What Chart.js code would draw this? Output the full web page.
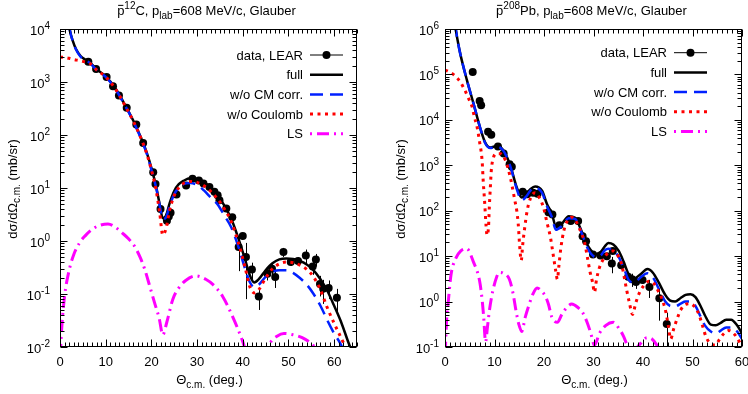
<!DOCTYPE html>
<html>
<head>
<meta charset="utf-8">
<script src="https://cdn.jsdelivr.net/npm/chart.js@4.4.1/dist/chart.umd.min.js"></script>
<style>
  body { margin: 0; background: #fff; }
  .wrap { display: flex; width: 748px; height: 394px; }
  canvas { display: block; }
</style>
</head>
<body>
<div class="wrap">
  <canvas id="carbonChart" width="374" height="394"></canvas>
  <canvas id="leadChart" width="374" height="394"></canvas>
</div>
<script>
// ---- p-bar + 12C ----
const c12XTicks = [0, 10, 20, 30, 40, 50, 60];
const c12YExponents = [-2, -1, 0, 1, 2, 3, 4];

const c12DataAngle = [6.2, 7.9, 10.2, 11.6, 12.9, 14.6, 16.7, 18.2, 20.4, 20.9, 22.0, 23.4, 23.8, 24.2, 25.5, 27.6, 29.0, 30.4, 31.4, 32.7, 33.8, 34.5, 34.9, 36.4, 37.7, 39.1, 40.0, 40.7, 42.0, 43.5, 45.4, 46.4, 47.1, 48.9, 50.5, 52.1, 53.8, 55.3, 56.0, 56.9, 57.6, 58.8, 60.6];
const c12DataValue = [2400, 1750, 1240, 830, 556, 325, 157, 71, 19.8, 11.9, 4.0, 2.4, 2.9, 3.4, 7.5, 11.2, 15.0, 13.8, 12.2, 10.5, 8.5, 7.3, 5.9, 4.1, 2.8, 0.77, 1.24, 0.5, 0.29, 0.09, 0.24, 0.30, 0.21, 0.62, 0.40, 0.42, 0.53, 0.33, 0.45, 0.155, 0.125, 0.13, 0.085];
const c12DataError = [70, 50, 35, 25, 17, 10, 5, 2, 0.6, 0.4, 0.15, 0.1, 0.12, 0.15, 0.3, 0.4, 0.5, 0.5, 0.4, 0.4, 0.3, 0.3, 0.3, 0.2, 0.25, 0.5, 0.15, 0.42, 0.1, 0.04, 0.06, 0.08, 0.08, 0.12, 0.06, 0.07, 0.16, 0.1, 0.12, 0.065, 0.06, 0.05, 0.04];

const c12FullAngle = [1.5, 2.1, 2.8, 3.5, 4.5, 5.5, 6.5, 8, 10, 12, 14, 16, 18, 19, 20, 21, 21.8, 22.5, 23.2, 24, 25, 26, 27, 28.5, 30, 31.5, 33, 34.5, 36, 37.5, 39, 40.5, 41.5, 42.5, 43.5, 45, 46.5, 48, 49.5, 51, 52.5, 54, 55.5, 57, 58.5, 60, 61.5, 63, 64.5];
const c12FullValue = [25000, 10000, 6000, 4200, 3100, 2650, 2350, 1750, 1280, 790, 400, 190, 78, 46, 24, 11, 5.0, 2.7, 3.0, 5.2, 8.8, 11.8, 13.6, 15.3, 14.6, 12.8, 10.0, 7.4, 4.6, 2.6, 1.15, 0.45, 0.23, 0.165, 0.19, 0.28, 0.38, 0.45, 0.47, 0.46, 0.42, 0.36, 0.28, 0.19, 0.115, 0.06, 0.03, 0.013, 0.006];

const c12NoCmAngle = [1.5, 2.1, 2.8, 3.5, 4.5, 5.5, 6.5, 8, 10, 12, 14, 16, 18, 19, 20, 21, 21.8, 22.5, 23.2, 24, 25, 26, 27, 28.5, 30, 31.5, 33, 34.5, 36, 37.5, 39, 40.5, 41.5, 42.5, 43.5, 45, 46.5, 48, 49.5, 51, 52.5, 54, 55.5, 57, 58.5, 60, 61.5, 63];
const c12NoCmValue = [25000, 10000, 5900, 4100, 3000, 2600, 2300, 1700, 1250, 770, 390, 185, 75, 44, 22, 10.5, 4.8, 2.6, 2.8, 4.6, 7.6, 10.2, 11.8, 12.4, 11.4, 9.0, 6.6, 4.9, 3.0, 1.8, 0.8, 0.3, 0.17, 0.135, 0.15, 0.21, 0.26, 0.28, 0.28, 0.25, 0.2, 0.15, 0.1, 0.06, 0.032, 0.018, 0.011, 0.005];

const c12NoCoulAngle = [0, 1, 2, 3, 4, 5, 6.5, 8, 10, 12, 14, 16, 18, 19, 20, 21, 21.8, 22.5, 23.2, 24, 25, 26, 27, 28.5, 30, 31.5, 33, 34.5, 36, 37.5, 39, 40.5, 41.5, 42.5, 43.5, 45, 46.5, 48, 49.5, 51, 52.5, 54, 55.5, 57, 58.5, 60, 61.5, 63, 64.5];
const c12NoCoulValue = [2950, 2900, 2800, 2650, 2550, 2450, 2250, 1700, 1250, 770, 390, 185, 76, 44, 22, 9.5, 3.5, 1.3, 1.7, 3.8, 7.2, 10.2, 12.2, 13.3, 12.8, 11.0, 8.6, 6.2, 4.0, 2.3, 0.95, 0.32, 0.14, 0.105, 0.12, 0.2, 0.3, 0.37, 0.4, 0.39, 0.35, 0.29, 0.21, 0.12, 0.055, 0.028, 0.015, 0.008, 0.004];

const c12LsAngle = [0, 0.3, 1, 2, 3, 4.3, 5.5, 7, 8.5, 10.5, 12, 13.7, 15, 16.3, 17.5, 18.5, 19.7, 20.7, 21.7, 22.5, 23.4, 24.7, 26, 27.5, 29.7, 31.9, 33.5, 35.6, 37.8, 40, 41.5, 43, 44.5, 46, 47.5, 49, 51, 53, 55.3, 57, 59];
const c12LsValue = [0.005, 0.018, 0.09, 0.28, 0.55, 0.93, 1.25, 1.65, 1.95, 2.1, 1.85, 1.4, 1.1, 0.8, 0.5, 0.3, 0.135, 0.068, 0.035, 0.017, 0.03, 0.08, 0.13, 0.18, 0.22, 0.19, 0.15, 0.09, 0.037, 0.0126, 0.005, 0.004, 0.006, 0.012, 0.016, 0.018, 0.017, 0.015, 0.011, 0.007, 0.003];

// ---- p-bar + 208Pb ----
const pbXTicks = [0, 10, 20, 30, 40, 50, 60];
const pbYExponents = [-1, 0, 1, 2, 3, 4, 5, 6];

const pbDataAngle = [5.6, 7.0, 7.3, 8.7, 9.35, 10.7, 11.85, 13.05, 13.5, 15.7, 16.6, 17.8, 18.7, 20.9, 21.7, 23.1, 25.4, 26.9, 27.8, 28.5, 29.9, 31.4, 32.7, 33.7, 33.9, 35.6, 37.0, 37.8, 38.6, 39.9, 41.3, 43.3, 44.8];
const pbDataValue = [113000, 26000, 21000, 5500, 4700, 2600, 1820, 1060, 930, 260, 230, 250, 235, 93, 83, 48, 59, 59, 27.5, 21.4, 10.9, 10.3, 10, 6.9, 12.9, 6.3, 3.5, 3.1, 2.7, 3.0, 2.1, 1.18, 0.32];
const pbDataError = [3000, 800, 600, 150, 130, 70, 50, 30, 25, 8, 7, 7, 7, 3, 3, 2, 2, 2, 1.2, 1, 1.5, 1.2, 1.2, 2.7, 1.5, 1.2, 0.5, 1.0, 0.8, 0.5, 0.9, 0.8, 0.25];

const pbFullAngle = [2, 2.5, 3.1, 4.4, 5.8, 7.1, 8.1, 9.15, 10.5, 11.85, 13.2, 14.5, 15.5, 16.4, 17.3, 18.2, 19.6, 20.6, 21.6, 22.4, 23.5, 25, 26.3, 27.2, 28, 29, 30.5, 31.5, 32.3, 33, 34, 35.1, 36.1, 37.1, 38.2, 39.5, 40.9, 42, 43.2, 44.5, 45.5, 46.5, 47.6, 48.6, 49.6, 50.6, 51.5, 52.5, 53.7, 54.7, 55.7, 56.8, 57.8, 59, 60];
const pbFullValue = [1300000, 600000, 280000, 77000, 22000, 6700, 3200, 2450, 2660, 2100, 980, 325, 195, 232, 300, 340, 275, 140, 85, 45, 50, 76, 70, 45, 27.6, 16, 11.2, 12.5, 16.5, 19.5, 18, 13, 7.5, 4.0, 3.2, 4.0, 5.2, 4.3, 2.6, 1.4, 1.05, 1.0, 1.2, 1.4, 1.45, 1.25, 0.85, 0.5, 0.31, 0.3, 0.34, 0.4, 0.4, 0.3, 0.2];

const pbNoCmAngle = [2, 2.5, 3.1, 4.4, 5.8, 7.1, 8.1, 9.15, 10.5, 11.85, 13.2, 14.5, 15.5, 16.4, 17.3, 18.2, 19.6, 20.6, 21.6, 22.4, 23.5, 25, 26.3, 27.2, 28, 29, 30.5, 31.5, 32.3, 33, 34, 35.1, 36.1, 37.1, 38.2, 39.5, 40.9, 42, 43.2, 44.5, 45.5, 46.5, 47.6, 48.6, 49.6, 50.6, 51.5, 52.5, 53.7, 54.7, 55.7, 56.8, 57.8, 59, 60];
const pbNoCmValue = [1300000, 600000, 280000, 77000, 22000, 6700, 3100, 2400, 2600, 2050, 950, 300, 170, 205, 280, 320, 250, 125, 72, 38, 45, 68, 66, 42, 25, 13.5, 9.5, 10.5, 13.5, 14.5, 13.5, 9.5, 5.5, 3.0, 2.6, 3.4, 4.2, 3.4, 1.9, 1.0, 0.8, 0.78, 0.9, 1.0, 1.0, 0.8, 0.5, 0.3, 0.22, 0.2, 0.23, 0.27, 0.27, 0.22, 0.15];

const pbNoCoulAngle = [0, 0.4, 1.9, 3.1, 4.0, 4.8, 5.5, 5.9, 6.5, 7.0, 7.5, 7.7, 8.0, 8.3, 8.5, 8.8, 8.95, 9.15, 9.35, 9.8, 10.4, 11.2, 12.2, 13.2, 13.6, 14.1, 14.5, 14.8, 15.1, 15.4, 15.7, 16.1, 16.6, 17.2, 18.2, 19.1, 19.9, 20.6, 21.3, 21.9, 22.4, 22.7, 23.0, 23.4, 24.0, 24.8, 25.6, 26.6, 27.5, 28.2, 28.8, 29.3, 29.8, 30.2, 30.6, 31.2, 32.0, 33.0, 34.0, 35.0, 35.7, 36.2, 36.7, 37.2, 37.9, 38.5, 39.2, 40.1, 41.2, 42.2, 43.2, 43.9, 44.6, 45.1, 45.6, 46.2, 46.9, 47.6, 48.6, 49.5, 50.5, 51.3, 52.0, 52.7, 53.6, 54.6, 55.5, 56.4, 57.3, 58.1, 59, 60];
const pbNoCoulValue = [124000, 120000, 96000, 68000, 45000, 29000, 19000, 12000, 6800, 3200, 1250, 490, 160, 46, 29, 46, 117, 310, 760, 1500, 1800, 1800, 1300, 540, 330, 170, 100, 50, 16, 8, 18, 42, 100, 180, 250, 190, 117, 55, 26, 10, 4.5, 3.1, 6, 15, 36, 62, 72, 55, 33, 20, 9, 4.5, 2.7, 1.6, 3, 5.6, 8.6, 12, 13, 10, 6.5, 3.5, 1.8, 1.0, 0.52, 0.9, 1.5, 2.2, 2.8, 2.5, 1.6, 1.1, 0.6, 0.3, 0.15, 0.25, 0.42, 0.65, 0.87, 0.9, 0.75, 0.52, 0.3, 0.17, 0.12, 0.11, 0.15, 0.2, 0.23, 0.21, 0.16, 0.1];

const pbLsAngle = [0, 0.3, 0.7, 1.2, 2.1, 3.2, 4.4, 5.8, 7.0, 7.5, 7.8, 8.2, 8.6, 9.0, 9.6, 10.4, 11.0, 11.8, 13.0, 13.7, 14.4, 14.9, 15.5, 16.2, 16.9, 17.8, 18.6, 19.5, 20.3, 20.9, 21.6, 22.7, 23.6, 24.6, 25.6, 26.8, 27.9, 28.7, 29.4, 30.2, 31.2, 32.5, 34.0, 35.2, 36.1, 36.8, 37.5, 38.5, 39.5, 40.8, 41.8, 42.8, 44, 45];
const pbLsValue = [0.05, 0.35, 1.1, 3.8, 8.6, 13, 14.5, 7.2, 2.8, 1.1, 0.48, 0.13, 0.29, 0.67, 1.6, 3.4, 4.4, 4.2, 3.1, 1.6, 0.58, 0.32, 0.22, 0.45, 0.8, 1.5, 2.0, 1.7, 1.3, 0.87, 0.45, 0.35, 0.52, 0.74, 0.88, 0.75, 0.55, 0.35, 0.21, 0.11, 0.2, 0.3, 0.35, 0.25, 0.17, 0.11, 0.08, 0.09, 0.12, 0.16, 0.15, 0.11, 0.06, 0.03];

const legendLabels = ['data, LEAR', 'full', 'w/o CM corr.', 'w/o Coulomb', 'LS'];

const FONT = '"Liberation Sans", Arial, Helvetica, sans-serif';

// layout of the decorations for each panel
const panelStyle = {
    carbonChart: {
        title: [['p', 'bar'], ['12', 'sup'], ['C, p', ''], ['lab', 'sub'], ['=608 MeV/c, Glauber', '']],
        xTicks: c12XTicks, yExp: c12YExponents,
        yLabelRight: 50, yTitleX: 16.5,
        legendTextRight: 303, legendTop: 55
    },
    leadChart: {
        title: [['p', 'bar'], ['208', 'sup'], ['Pb, p', ''], ['lab', 'sub'], ['=608 MeV/c, Glauber', '']],
        xTicks: pbXTicks, yExp: pbYExponents,
        yLabelRight: 65, yTitleX: 30.5,
        legendTextRight: 293, legendTop: 52.7
    }
};

function pts(xs, ys) {
    return xs.map((x, i) => ({ x: x, y: ys[i] }));
}

// draws text with super/subscripts; y is the baseline
function drawRich(ctx, parts, x, y, align, size) {
    const small = Math.round(size * 0.75);
    const widths = parts.map(([t, m]) => {
        ctx.font = ((m === 'sup' || m === 'sub') ? small : size) + 'px ' + FONT;
        return ctx.measureText(t).width;
    });
    const total = widths.reduce((a, b) => a + b, 0);
    let cx = align === 'right' ? x - total : align === 'center' ? x - total / 2 : x;
    ctx.textAlign = 'left';
    ctx.textBaseline = 'alphabetic';
    parts.forEach(([t, m], i) => {
        const sm = m === 'sup' || m === 'sub';
        ctx.font = (sm ? small : size) + 'px ' + FONT;
        const dy = m === 'sup' ? -size * 0.45 : m === 'sub' ? size * 0.3 : 0;
        ctx.fillText(t, cx, y + dy);
        if (m === 'bar') {
            ctx.fillRect(cx + 1, y - size * 0.78, widths[i] - 2, 1);
        }
        cx += widths[i];
    });
}

const paperPlugin = {
    id: 'paper',
    beforeDatasetsDraw(chart) {
        const { ctx, chartArea: a, scales: { x, y } } = chart;
        ctx.save();
        ctx.beginPath();
        ctx.rect(a.left, a.top, a.right - a.left, a.bottom - a.top);
        ctx.clip();
        ctx.strokeStyle = '#000';
        ctx.lineWidth = 1;
        chart.data.datasets.forEach(ds => {
            if (!ds.errorBars) return;
            ds.data.forEach((p, i) => {
                const e = ds.errorBars[i];
                const px = Math.round(x.getPixelForValue(p.x)) + 0.5;
                const lo = Math.max(p.y - e, y.min / 10);
                ctx.beginPath();
                ctx.moveTo(px, y.getPixelForValue(p.y + e));
                ctx.lineTo(px, y.getPixelForValue(lo));
                ctx.stroke();
            });
        });
        ctx.restore();
    },
    afterDatasetsDraw(chart) {
        const { ctx, chartArea: a, scales: { x, y } } = chart;
        const st = panelStyle[chart.canvas.id];
        const L = Math.round(a.left) + 0.5, R = Math.round(a.right) - 0.5;
        const T = Math.round(a.top) + 0.5, B = Math.round(a.bottom) - 0.5;
        ctx.save();
        ctx.fillStyle = '#000';
        ctx.strokeStyle = '#000';
        ctx.lineWidth = 1;
        ctx.setLineDash([]);
        ctx.strokeRect(L, T, R - L, B - T);

        // inward ticks on all four sides
        ctx.beginPath();
        for (let v = Math.ceil(x.min); v <= x.max; v++) {
            const px = Math.round(x.getPixelForValue(v)) + 0.5;
            const len = v % 10 === 0 ? 7 : 4;
            ctx.moveTo(px, B); ctx.lineTo(px, B - len);
            ctx.moveTo(px, T); ctx.lineTo(px, T + len);
        }
        st.yExp.forEach(e => {
            for (let m = 1; m <= 9; m++) {
                const v = m * Math.pow(10, e);
                if (v > y.max * 1.0001) break;
                const py = Math.round(y.getPixelForValue(v)) + 0.5;
                const len = m === 1 ? 7 : 4;
                ctx.moveTo(L, py); ctx.lineTo(L + len, py);
                ctx.moveTo(R, py); ctx.lineTo(R - len, py);
            }
        });
        ctx.stroke();

        // tick labels
        ctx.textAlign = 'center';
        ctx.textBaseline = 'alphabetic';
        ctx.font = '13px ' + FONT;
        st.xTicks.forEach(v => {
            ctx.fillText(String(v), x.getPixelForValue(v), 365.5);
        });
        st.yExp.forEach(e => {
            drawRich(ctx, [['10', ''], [String(e), 'sup']], st.yLabelRight, y.getPixelForValue(Math.pow(10, e)) + 5.5, 'right', 13);
        });

        // titles
        const cx = (a.left + a.right) / 2;
        drawRich(ctx, st.title, cx - 2, 15, 'center', 13);
        drawRich(ctx, [['\u0398', ''], ['c.m.', 'sub'], [' (deg.)', '']], cx + 1, 384, 'center', 13);
        ctx.save();
        ctx.translate(st.yTitleX, (a.top + a.bottom) / 2 + 1);
        ctx.rotate(-Math.PI / 2);
        drawRich(ctx, [['d\u03c3/d\u03a9', ''], ['c.m.', 'sub'], [' (mb/sr)', '']], 0, 0, 'center', 13);
        ctx.restore();

        // legend
        chart.data.datasets.forEach((ds, i) => {
            const ry = st.legendTop + i * 19.7;
            ctx.font = '13px ' + FONT;
            ctx.textAlign = 'right';
            ctx.fillStyle = '#000';
            ctx.fillText(ds.label, st.legendTextRight, ry + 4.5);
            const x0 = st.legendTextRight + 7, x1 = x0 + 33;
            ctx.save();
            if (!ds.showLine) {
                ctx.strokeStyle = '#000';
                ctx.lineWidth = 1;
                ctx.beginPath(); ctx.moveTo(x0, ry); ctx.lineTo(x1, ry); ctx.stroke();
                ctx.beginPath(); ctx.arc((x0 + x1) / 2, ry, ds.pointRadius, 0, Math.PI * 2); ctx.fill();
            } else {
                ctx.strokeStyle = ds.borderColor;
                ctx.lineWidth = ds.borderWidth;
                ctx.setLineDash(ds.borderDash || []);
                ctx.beginPath(); ctx.moveTo(x0, ry); ctx.lineTo(x1, ry); ctx.stroke();
            }
            ctx.restore();
        });
        ctx.restore();
    }
};

function curve(label, angles, values, color, width, dash, order) {
    return {
        label: label,
        data: pts(angles, values),
        showLine: true,
        borderColor: color,
        borderWidth: width,
        borderDash: dash,
        pointRadius: 0,
        cubicInterpolationMode: 'monotone',
        order: order
    };
}

function makeChart(id, sets, xMax, yMin, yMax, padRight, padLeft) {
    return new Chart(document.getElementById(id), {
        type: 'scatter',
        data: {
            datasets: [
                {
                    label: legendLabels[0],
                    data: pts(sets.dataAngle, sets.dataValue),
                    errorBars: sets.dataError,
                    showLine: false,
                    pointRadius: 4,
                    pointBackgroundColor: '#000',
                    pointBorderColor: '#000',
                    pointBorderWidth: 0,
                    order: 5
                },
                curve(legendLabels[1], sets.fullAngle, sets.fullValue, '#000000', 2.5, [], 4),
                curve(legendLabels[2], sets.noCmAngle, sets.noCmValue, 'rgb(0, 32, 255)', 2.5, [13, 7], 3),
                curve(legendLabels[3], sets.noCoulAngle, sets.noCoulValue, 'rgb(255, 0, 0)', 3, [3, 4.5], 2),
                curve(legendLabels[4], sets.lsAngle, sets.lsValue, 'rgb(255, 0, 255)', 3, [2, 5, 12, 5], 1)
            ]
        },
        options: {
            responsive: false,
            animation: false,
            events: [],
            layout: { padding: { left: padLeft, right: padRight, top: 29, bottom: 47 } },
            scales: {
                x: { type: 'linear', min: 0, max: xMax, display: false },
                y: { type: 'logarithmic', min: yMin, max: yMax, display: false }
            },
            plugins: {
                legend: { display: false },
                title: { display: false },
                tooltip: { enabled: false }
            }
        },
        plugins: [paperPlugin]
    });
}

makeChart('carbonChart', {
    dataAngle: c12DataAngle, dataValue: c12DataValue, dataError: c12DataError,
    fullAngle: c12FullAngle, fullValue: c12FullValue,
    noCmAngle: c12NoCmAngle, noCmValue: c12NoCmValue,
    noCoulAngle: c12NoCoulAngle, noCoulValue: c12NoCoulValue,
    lsAngle: c12LsAngle, lsValue: c12LsValue
}, 65, 0.01, 10000, 17, 60);

makeChart('leadChart', {
    dataAngle: pbDataAngle, dataValue: pbDataValue, dataError: pbDataError,
    fullAngle: pbFullAngle, fullValue: pbFullValue,
    noCmAngle: pbNoCmAngle, noCmValue: pbNoCmValue,
    noCoulAngle: pbNoCoulAngle, noCoulValue: pbNoCoulValue,
    lsAngle: pbLsAngle, lsValue: pbLsValue
}, 60, 0.1, 1000000, 6, 71);
</script>
</body>
</html>
